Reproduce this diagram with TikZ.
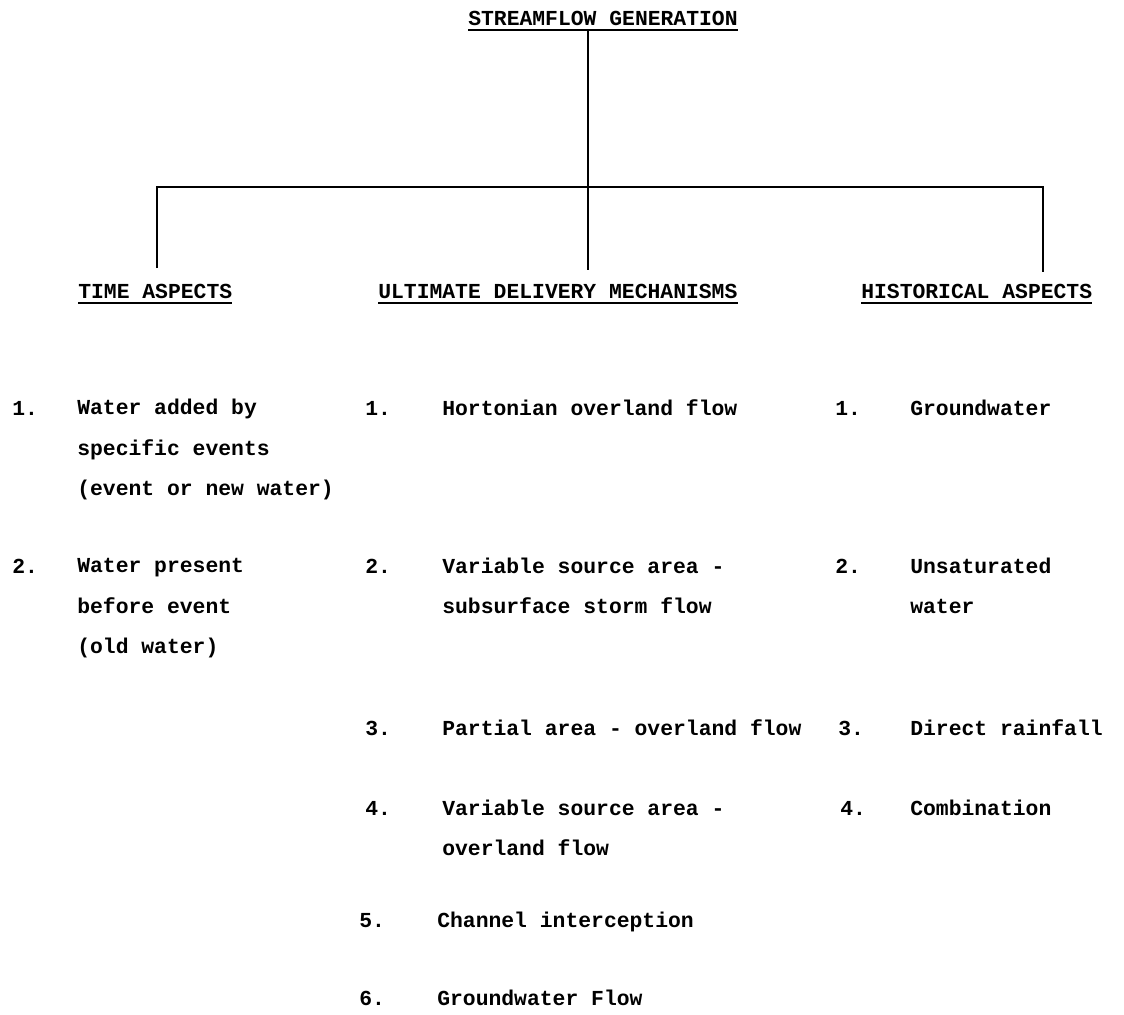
\documentclass[tikz,border=0pt]{standalone}
\usepackage{fontspec}
\newfontfamily\tw{Liberation Mono}
\tikzset{
  txt/.style={font=\tw\bfseries\fontsize{15.2}{28.45}\selectfont, anchor=base west, inner sep=0pt, align=left},
  link/.style={line width=1.8pt},
  ul/.style={line width=1.3pt}
}
\begin{document}
\begin{tikzpicture}[x=0.025cm,y=-0.025cm]
\useasboundingbox (0,0) rectangle (1124,1014);
% headings
\node[txt] (gen) at (468,25) {STREAMFLOW GENERATION};
\node[txt] (time) at (78,298) {TIME ASPECTS};
\node[txt] (ult) at (378,298) {ULTIMATE DELIVERY MECHANISMS};
\node[txt] (hist) at (861,298) {HISTORICAL ASPECTS};
\foreach \n in {gen,time,ult,hist}
  \draw[ul] ([yshift=-3.5pt]\n.base west) -- ([yshift=-3.5pt]\n.base east);
% tree
\coordinate (bus) at (588,187);
\coordinate (dl) at (157,268);
\coordinate (dm) at (588,270);
\coordinate (dr) at (1043,272);
\draw[link] ([yshift=-3.5pt]gen.base -| bus) -- (bus);
\draw[link] (dl) -- (dl |- bus) -- (dr |- bus) -- (dr);
\draw[link] (bus) -- (dm);
% time aspects (multi-line nodes sit on their last line)
\node[txt] (tn1) at (12,415) {1.};
\node[txt] (t1) at (77,495) {Water added by\\specific events\\(event or new water)};
\node[txt] (tn2) at (12,573) {2.};
\node[txt] (t2) at (77,653) {Water present\\before event\\(old water)};
% delivery mechanisms
\node[txt] (un1) at (365,415) {1.};
\node[txt] (u1) at (442,415) {Hortonian overland flow};
\node[txt] (un2) at (365,573) {2.};
\node[txt] (u2) at (442,613) {Variable source area -\\subsurface storm flow};
\node[txt] (un3) at (365,735) {3.};
\node[txt] (u3) at (442,735) {Partial area - overland flow};
\node[txt] (un4) at (365,815) {4.};
\node[txt] (u4) at (442,855) {Variable source area -\\overland flow};
\node[txt] (un5) at (359,927) {5.};
\node[txt] (u5) at (437,927) {Channel interception};
\node[txt] (un6) at (359,1005) {6.};
\node[txt] (u6) at (437,1005) {Groundwater Flow};
% historical aspects
\node[txt] (hn1) at (835,415) {1.};
\node[txt] (h1) at (910,415) {Groundwater};
\node[txt] (hn2) at (835,573) {2.};
\node[txt] (h2) at (910,613) {Unsaturated\\water};
\node[txt] (hn3) at (838,735) {3.};
\node[txt] (h3) at (910,735) {Direct rainfall};
\node[txt] (hn4) at (840,815) {4.};
\node[txt] (h4) at (910,815) {Combination};
\end{tikzpicture}
\end{document}
